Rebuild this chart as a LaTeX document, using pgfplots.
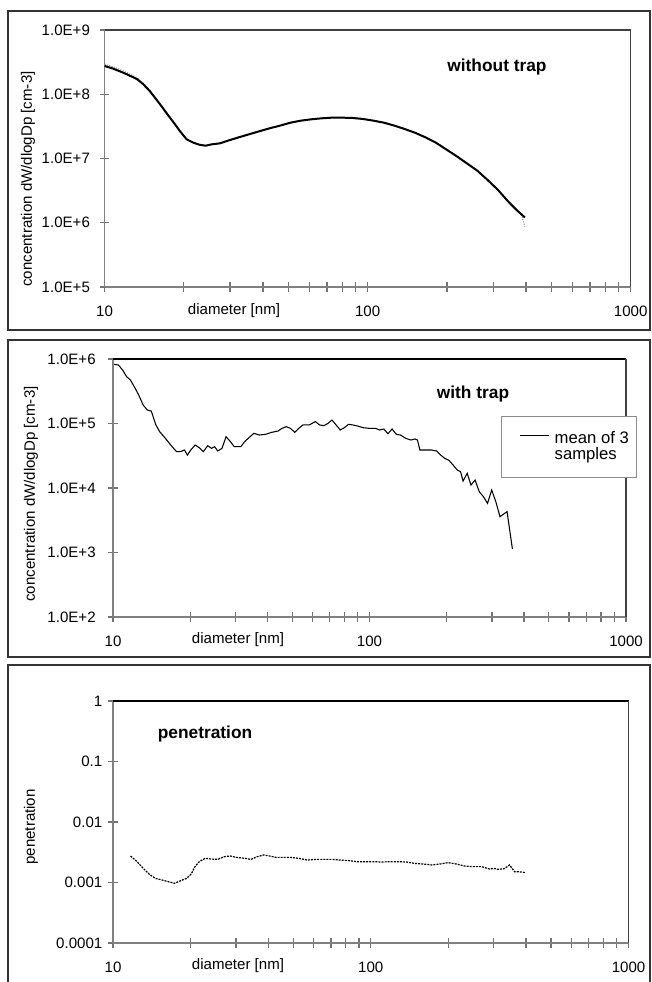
\documentclass[border=0pt]{standalone}
\usepackage{pgfplots}
\pgfplotsset{compat=1.18}
\usepackage{fontspec}
\setmainfont{Liberation Sans}

\begin{document}
\begin{tikzpicture}
\useasboundingbox (0,0) rectangle (488.25pt,736.5pt);
% panel frames
\draw[black!80, line width=1pt] (6pt,489pt) rectangle (487.5pt,728.25pt);
\draw[black!80, line width=1pt] (6pt,243.75pt) rectangle (487.5pt,481.5pt);
\draw[black!80, line width=1pt] (6pt,-6pt) rectangle (487.5pt,237.75pt);

% ---------------- panel 1 ----------------
\begin{axis}[
  scale only axis,
  xmode=log, ymode=log,
  xmin=10, xmax=1000,
  axis x line*=bottom, axis y line*=left,
  axis line style={draw=black!50, line width=1pt},
  xtick={10,100,1000}, xticklabels={10,100,1000},
  minor xtick={20,30,40,50,60,70,80,90,200,300,400,500,600,700,800,900},
  yminorticks=false,
  xtick align=center, ytick align=center,
  major tick length=7pt, minor tick length=7pt,
  tick style={draw=black!55, line width=1pt},
  tick label style={font=\fontsize{11.3}{13}\selectfont, text=black},
  xticklabel style={yshift=-7pt},
  yticklabel style={xshift=-4pt},
  clip=false,
  at={(78.45pt,521.25pt)}, anchor=south west,
  width=394.6pt, height=192.75pt,
  ymin=1e5, ymax=1e9,
  ytick={1e5,1e6,1e7,1e8,1e9},
  yticklabels={1.0E+5,1.0E+6,1.0E+7,1.0E+8,1.0E+9},
]
\draw[black!75, line width=1pt] (rel axis cs:0,1) -- (rel axis cs:1,1) -- (rel axis cs:1,0);
\addplot[black!45, densely dotted, line width=0.8pt] coordinates {
(10,2.95e8)(10.7,2.7e8)(11.5,2.4e8)(12.3,2.12e8)(13.3,1.8e8)(14.0,1.5e8)(14.8,1.18e8)
(15.6,8.9e7)(16.5,6.6e7)(17.4,4.9e7)(18.4,3.6e7)(19.4,2.66e7)(20.5,2.0e7)(21.7,1.78e7)
(22.9,1.65e7)(24.2,1.6e7)(25.5,1.67e7)(27.4,1.73e7)(29.5,1.91e7)(32.3,2.15e7)(35.4,2.4e7)
(38.7,2.67e7)(42.4,2.97e7)(46.5,3.27e7)(50.9,3.63e7)(55.7,3.9e7)(61.0,4.1e7)(66.8,4.25e7)
(73.1,4.35e7)(80.1,4.35e7)(87.7,4.3e7)(96.0,4.15e7)(105.2,3.9e7)(115.2,3.63e7)(126.2,3.27e7)
(138.1,2.9e7)(151.2,2.54e7)(165.6,2.16e7)(181.4,1.79e7)(198.6,1.41e7)(217.5,1.11e7)
(238.2,8.5e6)(260.9,6.55e6)(285.6,4.7e6)(312.8,3.3e6)(342.5,2.15e6)(368.2,1.6e6)(385,1.3e6)(396,8.7e5)
};
\addplot[black, line width=1.5pt] coordinates {
(10,2.75e8)(10.7,2.53e8)(11.5,2.25e8)(12.3,2.0e8)(13.3,1.71e8)(14.0,1.44e8)(14.8,1.14e8)
(15.6,8.65e7)(16.5,6.41e7)(17.4,4.76e7)(18.4,3.53e7)(19.4,2.62e7)(20.5,1.99e7)(21.7,1.77e7)
(22.9,1.64e7)(24.2,1.58e7)(25.5,1.66e7)(27.4,1.72e7)(29.5,1.90e7)(32.3,2.13e7)(35.4,2.38e7)
(38.7,2.65e7)(42.4,2.95e7)(46.5,3.25e7)(50.9,3.61e7)(55.7,3.88e7)(61.0,4.07e7)(66.8,4.22e7)
(73.1,4.32e7)(80.1,4.32e7)(87.7,4.27e7)(96.0,4.12e7)(105.2,3.88e7)(115.2,3.61e7)(126.2,3.25e7)
(138.1,2.88e7)(151.2,2.52e7)(165.6,2.14e7)(181.4,1.77e7)(198.6,1.39e7)(217.5,1.09e7)
(238.2,8.41e6)(260.9,6.47e6)(285.6,4.63e6)(312.8,3.24e6)(342.5,2.13e6)(368.2,1.58e6)(396,1.21e6)
};
\end{axis}

% ---------------- panel 2 ----------------
\begin{axis}[
  scale only axis,
  xmode=log, ymode=log,
  xmin=10, xmax=1000,
  axis x line*=bottom, axis y line*=left,
  axis line style={draw=black!50, line width=1pt},
  xtick={10,100,1000}, xticklabels={10,100,1000},
  minor xtick={20,30,40,50,60,70,80,90,200,300,400,500,600,700,800,900},
  yminorticks=false,
  xtick align=center, ytick align=center,
  major tick length=7pt, minor tick length=7pt,
  tick style={draw=black!55, line width=1pt},
  tick label style={font=\fontsize{11.3}{13}\selectfont, text=black},
  xticklabel style={yshift=-7pt},
  yticklabel style={xshift=-6pt},
  clip=false,
  at={(84.75pt,273.75pt)}, anchor=south west,
  width=384.75pt, height=193.5pt,
  ymin=1e2, ymax=1e6,
  ytick={1e2,1e3,1e4,1e5,1e6},
  yticklabels={1.0E+2,1.0E+3,1.0E+4,1.0E+5,1.0E+6},
  legend style={at={(0.756,0.779)}, anchor=north west, draw=black!45, line width=0.8pt,
    font=\fontsize{12.5}{14}\selectfont, inner xsep=4pt, inner ysep=11pt,
    nodes={text height=1.75ex, text depth=0.5ex, inner ysep=0pt}},
  legend cell align=left,
  legend image code/.code={\path[draw=none] (0pt,0pt) -- (34pt,0pt); \draw[#1] (10pt,0.3em) -- (32pt,0.3em);},
]
\draw[black, line width=1.5pt] (rel axis cs:0,1) -- (rel axis cs:1,1);
\draw[black!75, line width=1pt] (rel axis cs:1,1) -- (rel axis cs:1,0);
\addplot[black, line width=0.8pt] coordinates {
(10.1,8.27e5)(10.5,8.07e5)(10.9,6.75e5)(11.3,5.32e5)(11.7,4.72e5)(12.2,3.51e5)(12.6,2.77e5)
(13.1,1.94e5)(13.6,1.62e5)(14.1,1.56e5)(14.7,9.5e4)(15.2,7.47e4)(15.8,6.25e4)(16.4,5.23e4)
(17.0,4.37e4)(17.7,3.66e4)(18.3,3.66e4)(19.0,3.88e4)(19.5,3.24e4)(20.1,3.88e4)(20.9,4.64e4)
(21.7,4.22e4)(22.5,3.66e4)(23.4,4.53e4)(24.2,4.12e4)(24.9,4.37e4)(25.6,3.75e4)(26.6,4.12e4)
(27.6,6.25e4)(28.7,5.23e4)(29.7,4.37e4)(31.5,4.37e4)(32.6,5.23e4)(33.9,6.03e4)(35.4,7.03e4)
(37.2,6.63e4)(39.3,6.79e4)(41.6,7.3e4)(44.0,7.65e4)(45.6,8.41e4)(47.4,8.93e4)(49.2,8.41e4)
(51.1,7.3e4)(53.0,8.41e4)(55.0,9.5e4)(58.2,9.5e4)(61.5,1.07e5)(63.9,9.5e4)(66.3,9.25e4)
(68.8,1.0e5)(71.4,1.13e5)(74.1,9.5e4)(76.9,7.93e4)(79.8,8.61e4)(82.8,9.7e4)(86.0,9.5e4)
(89.9,9.14e4)(94.4,8.61e4)(99.8,8.41e4)(105.5,8.41e4)(109.5,7.93e4)(113.7,8.22e4)(118.0,6.95e4)
(122.5,8.22e4)(127.2,6.79e4)(132.0,6.63e4)(138.5,5.89e4)(144.9,5.55e4)(150.4,5.75e4)(153.8,5.55e4)
(157.2,3.88e4)(165.1,3.88e4)(174.5,3.88e4)(182.5,3.75e4)(189.4,3.24e4)(196.6,2.88e4)(204.0,2.69e4)
(211.8,2.27e4)(219.9,1.9e4)(226.5,1.79e4)(231.6,1.28e4)(240.4,1.69e4)(248.6,1.11e4)(258.0,1.33e4)
(267.8,8.77e3)(278.0,7.34e3)(288.5,5.78e3)(299.5,9.3e3)(310.8,6.14e3)(322.6,3.59e3)(343.8,4.3e3)
(360.8,1.13e3)
};
\addlegendentry{mean of 3}
\addlegendimage{empty legend}
\addlegendentry{samples}
\end{axis}

% ---------------- panel 3 ----------------
\begin{axis}[
  scale only axis,
  xmode=log, ymode=log,
  xmin=10, xmax=1000,
  axis x line*=bottom, axis y line*=left,
  axis line style={draw=black!50, line width=1pt},
  xtick={10,100,1000}, xticklabels={10,100,1000},
  minor xtick={20,30,40,50,60,70,80,90,200,300,400,500,600,700,800,900},
  yminorticks=false,
  xtick align=center, ytick align=center,
  major tick length=7pt, minor tick length=7pt,
  tick style={draw=black!55, line width=1pt},
  tick label style={font=\fontsize{11.3}{13}\selectfont, text=black},
  xticklabel style={yshift=-7pt},
  yticklabel style={xshift=-1pt},
  clip=false,
  at={(84.75pt,29.25pt)}, anchor=south west,
  width=386.7pt, height=181.5pt,
  ymin=1e-4, ymax=1,
  ytick={1e-4,1e-3,1e-2,1e-1,1},
  yticklabels={0.0001,0.001,0.01,0.1,1},
]
\draw[black, line width=1.3pt] (rel axis cs:0,1) -- (rel axis cs:1,1);
\draw[black!75, line width=1pt] (rel axis cs:1,1) -- (rel axis cs:1,0);
\addplot[black, line width=0.9pt, dash pattern=on 1.5pt off 0.8pt] coordinates {
(11.7,2.74e-3)(12.4,2.21e-3)(13.1,1.71e-3)(13.8,1.38e-3)(14.6,1.17e-3)(15.5,1.10e-3)(16.4,1.03e-3)
(17.3,9.7e-4)(18.3,1.07e-3)(19.3,1.17e-3)(20.1,1.38e-3)(20.8,1.83e-3)(21.6,2.21e-3)(22.8,2.51e-3)
(24.1,2.44e-3)(25.5,2.41e-3)(27.0,2.67e-3)(28.5,2.74e-3)(30.1,2.6e-3)(32.5,2.51e-3)(34.3,2.41e-3)
(36.3,2.67e-3)(38.4,2.85e-3)(40.5,2.74e-3)(42.9,2.6e-3)(45.3,2.6e-3)(48.8,2.6e-3)(52.6,2.51e-3)
(56.6,2.35e-3)(61.0,2.41e-3)(65.6,2.41e-3)(70.7,2.41e-3)(76.1,2.35e-3)(82.0,2.3e-3)(88.3,2.21e-3)
(95.1,2.21e-3)(102.4,2.21e-3)(110.3,2.18e-3)(118.8,2.21e-3)(127.9,2.21e-3)(137.7,2.18e-3)
(148.3,2.07e-3)(159.7,2.02e-3)(172.0,1.95e-3)(185.3,2.02e-3)(199.5,2.13e-3)(214.9,2.02e-3)
(231.4,1.87e-3)(249.2,1.83e-3)(268.5,1.83e-3)(289.1,1.67e-3)(300.0,1.71e-3)(311.3,1.65e-3)
(329.1,1.69e-3)(345.3,1.95e-3)(361.0,1.51e-3)(374.6,1.51e-3)(396.0,1.46e-3)
};
\end{axis}

% ---------------- texts ----------------
\node[font=\bfseries\fontsize{13}{15}\selectfont] at (372.75pt,686.25pt) {without trap};
\node[font=\bfseries\fontsize{13}{15}\selectfont] at (354.75pt,441pt) {with trap};
\node[font=\bfseries\fontsize{13}{15}\selectfont] at (153.75pt,186pt) {penetration};
\node[rotate=90, font=\fontsize{11.3}{13}\selectfont] at (21pt,602.25pt) {concentration dW/dlogDp [cm-3]};
\node[rotate=90, font=\fontsize{11.3}{13}\selectfont] at (23.25pt,366pt) {concentration dW/dlogDp [cm-3]};
\node[rotate=90, font=\fontsize{11.3}{13}\selectfont] at (23.25pt,116.25pt) {penetration};
\node[font=\fontsize{11.3}{13}\selectfont] at (175.5pt,503.25pt) {diameter [nm]};
\node[font=\fontsize{11.3}{13}\selectfont] at (178.5pt,256.5pt) {diameter [nm]};
\node[font=\fontsize{11.3}{13}\selectfont] at (178.5pt,12pt) {diameter [nm]};
\end{tikzpicture}
\end{document}
